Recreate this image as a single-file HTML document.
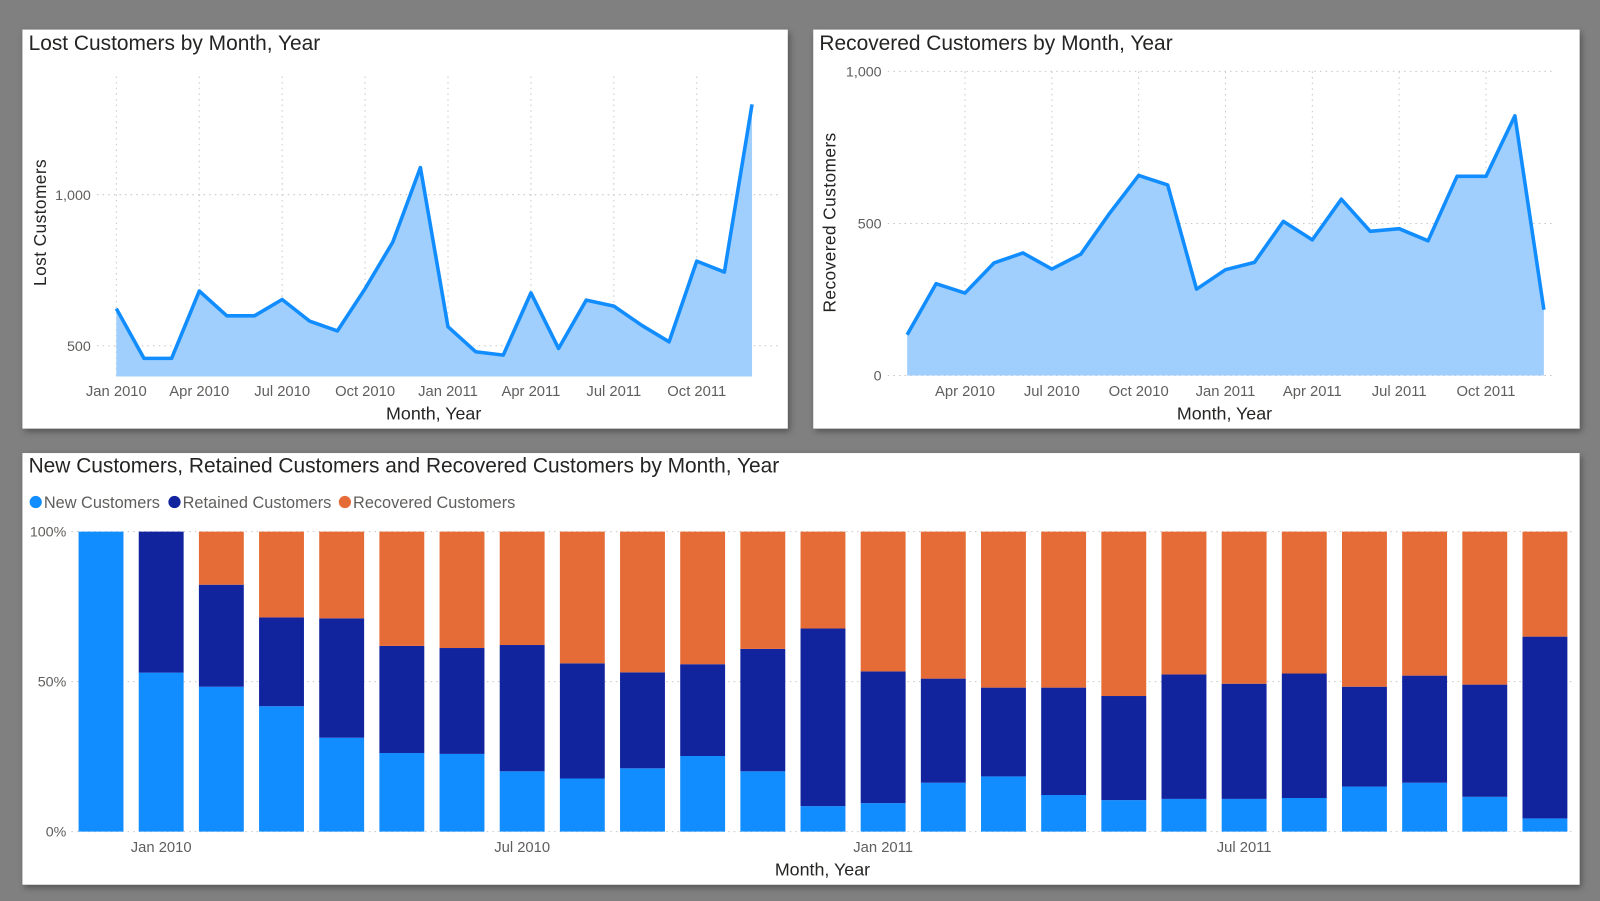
<!DOCTYPE html>
<html><head><meta charset="utf-8"><style>
body{margin:0;width:1600px;height:901px;background:#808080;overflow:hidden;font-family:"Liberation Sans",sans-serif}
svg{display:block}
text{font-family:"Liberation Sans",sans-serif}
</style></head><body>
<svg id="s" width="1600" height="901" viewBox="0 0 1568 883" preserveAspectRatio="none">
<defs><filter id="sh" x="-5%" y="-5%" width="110%" height="110%"><feDropShadow dx="2" dy="3" stdDeviation="3" flood-color="#000" flood-opacity="0.35"/></filter></defs>
<rect x="22" y="29" width="750" height="391" fill="#fff" filter="url(#sh)"/>
<rect x="797" y="29" width="751" height="391" fill="#fff" filter="url(#sh)"/>
<rect x="22" y="444" width="1526" height="423" fill="#fff" filter="url(#sh)"/>
<text x="28" y="49" font-size="20.5" fill="#252423">Lost Customers by Month, Year</text>
<text x="803" y="49" font-size="20.5" fill="#252423">Recovered Customers by Month, Year</text>
<text x="28" y="463" font-size="20.5" fill="#252423">New Customers, Retained Customers and Recovered Customers by Month, Year</text>
<g id="lost"></g>
<g id="rec"></g>
<g id="bars"></g>
</svg>
<script>
const lostValues=[623,458,458,681,599,599,653,581,549,689,843,1090,563,480,469,675,491,651,631,568,513,780,744,1299];
const lostTicks=["Jan 2010","Apr 2010","Jul 2010","Oct 2010","Jan 2011","Apr 2011","Jul 2011","Oct 2011"];
const lostYTicks=[500,1000];
const recValues=[134,302,271,370,403,350,399,534,658,627,284,348,372,507,446,580,474,483,443,655,655,854,216];
const recTicks=["Apr 2010","Jul 2010","Oct 2010","Jan 2011","Apr 2011","Jul 2011","Oct 2011"];
const recYTicks=[0,500,1000];
const barMonths=["Dec 2009","Jan 2010","Feb 2010","Mar 2010","Apr 2010","May 2010","Jun 2010","Jul 2010","Aug 2010","Sep 2010","Oct 2010","Nov 2010","Dec 2010","Jan 2011","Feb 2011","Mar 2011","Apr 2011","May 2011","Jun 2011","Jul 2011","Aug 2011","Sep 2011","Oct 2011","Nov 2011","Dec 2011"];
const newPct=[100,53,48.3,41.8,31.3,26.2,25.9,20.1,17.7,21.1,25.2,20.1,8.5,9.5,16.3,18.4,12.2,10.5,10.9,10.9,11.2,15,16.3,11.6,4.4];
const retainedPct=[0,47,34,29.6,39.8,35.7,35.3,42.1,38.4,32,30.6,40.8,59.2,43.9,34.7,29.6,35.8,34.7,41.5,38.4,41.5,33.3,35.7,37.4,60.6];
const recoveredPct=[0,0,17.7,28.6,28.9,38.1,38.8,37.8,43.9,46.9,44.2,39.1,32.3,46.6,49,52,52,54.8,47.6,50.7,47.3,51.7,48,51,35];
const barTicks=["Jan 2010","Jul 2010","Jan 2011","Jul 2011"];
const barTickIdx=[1,7,13,19];
const NS="http://www.w3.org/2000/svg";
function mk(p,t,a,txt){const e=document.createElementNS(NS,t);for(const k in a)e.setAttribute(k,a[k]);if(txt!=null)e.textContent=txt;p.appendChild(e);return e;}
const fmt=v=>v.toLocaleString('en-US');
function area(g,vals,x0,step,ymin,yminPx,pxPer,xTicks,tickStart,yTicks,left,right,top,ytitle,ytx,ytcy,xtitleX){
  const X=i=>x0+i*step, Y=v=>yminPx-(v-ymin)*pxPer;
  yTicks.forEach(t=>{let l=mk(g,'line',{x1:left,x2:right,y1:Y(t),y2:Y(t),stroke:'#c8c8c8','stroke-dasharray':'1.5 4'});
    let tx=mk(g,'text',{x:left-6,y:Y(t)+5,'text-anchor':'end','font-size':14,fill:'#605e5c'},fmt(t));});
  xTicks.forEach((t,k)=>{const x=X(tickStart+k*3);let l=mk(g,'line',{x1:x,x2:x,y1:top,y2:yminPx,stroke:'#c8c8c8','stroke-dasharray':'1.5 4'});
    let tx=mk(g,'text',{x:x,y:388,'text-anchor':'middle','font-size':14.5,fill:'#605e5c'},t);});
  let d=vals.map((v,i)=>(i?'L':'M')+X(i).toFixed(1)+','+Y(v).toFixed(1)).join('');
  let a=mk(g,'path',{d:d+'L'+X(vals.length-1)+','+yminPx+'L'+X(0)+','+yminPx+'Z',fill:'#a0cffd'});
  let l=mk(g,'path',{d:d,fill:'none',stroke:'#118dff','stroke-width':3.5,'stroke-linejoin':'round'});
  let yt=mk(g,'text',{x:0,y:0,transform:`translate(${ytx},${ytcy}) rotate(-90)`,'text-anchor':'middle','font-size':17,'letter-spacing':'0.4',fill:'#252423'},ytitle);
  let xt=mk(g,'text',{x:xtitleX,y:411,'text-anchor':'middle','font-size':17.5,fill:'#252423'},'Month, Year');
}
area(document.getElementById('lost'),lostValues,114,(737-114)/23,398,369,0.296,lostTicks,0,lostYTicks,95,765,75,'Lost Customers',45,218,425);
area(document.getElementById('rec'),recValues,889,(1513-889)/22,0,368,0.298,recTicks,2,recYTicks,870,1522,70,'Recovered Customers',819,218,1200);
const bg=document.getElementById('bars');
const bx0=77,bstep=58.96,bw=44,btop=521,bbot=815,bh=bbot-btop;
const BY=p=>bbot-p/100*bh;
[[0,'0%'],[50,'50%'],[100,'100%']].forEach(([p,l])=>{let g=mk(bg,'line',{x1:70,x2:1540,y1:BY(p),y2:BY(p),stroke:'#c8c8c8','stroke-dasharray':'1.5 4'});
  let t=mk(bg,'text',{x:65,y:BY(p)+5,'text-anchor':'end','font-size':14,fill:'#605e5c'},l);});
barMonths.forEach((m,i)=>{const x=bx0+i*bstep;let c=0;
  [[newPct[i],'#118dff','new'],[retainedPct[i],'#12239e','retained'],[recoveredPct[i],'#e66c37','recovered']].forEach(([v,col,n])=>{if(v<=0)return;
    let r=mk(bg,'rect',{x:x,y:BY(c+v),width:bw,height:v/100*bh,fill:col});
    
    c+=v;});});
barTicks.forEach((t,k)=>{let tx=mk(bg,'text',{x:bx0+barTickIdx[k]*bstep+bw/2,y:835,'text-anchor':'middle','font-size':14.5,fill:'#605e5c'},t);});
let xt=mk(bg,'text',{x:806,y:858,'text-anchor':'middle','font-size':17.5,fill:'#252423'},'Month, Year');
[['New Customers','#118dff',35],['Retained Customers','#12239e',171],['Recovered Customers','#e66c37',338]].forEach(([n,c,x])=>{
  let ci=mk(bg,'circle',{cx:x,cy:492,r:6,fill:c});
  let t=mk(bg,'text',{x:x+8,y:498,'font-size':16,fill:'#605e5c'},n);});
</script>
</body></html>
